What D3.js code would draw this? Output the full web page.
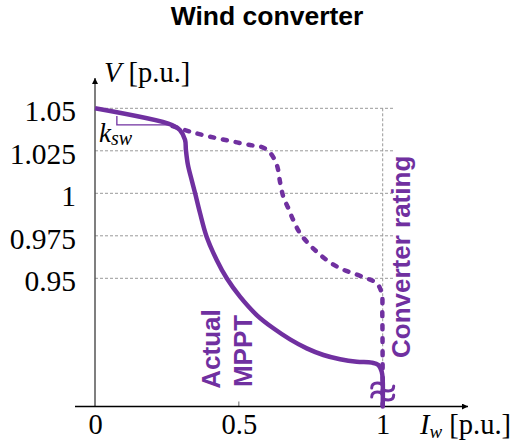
<!DOCTYPE html>
<html lang="en">
<head>
  <meta charset="UTF-8">
  <title>Wind converter</title>
  <style>
    body { margin: 0; background: #fff; }
    svg text { font-family: "Liberation Serif", "Times New Roman", serif; }
    .title, .lbl { font-family: "Liberation Sans", Arial, sans-serif !important; font-weight: bold; }
  </style>
</head>
<body>
  <svg id="chart" width="514" height="443"></svg>

  <script src="https://d3js.org/d3.v7.min.js"></script>
  <script>
    // valores
    const yTicks = [1.05, 1.025, 1, 0.975, 0.95];
    const yTickLabels = ['1.05', '1.025', '1', '0.975', '0.95'];
    const xTicks = [0, 0.5, 1];
    const xTickLabels = ['0', '0.5', '1'];

    // curva real (MPPT)
    const mpptI = [0, 0.268, 0.295, 0.313, 0.316, 0.323, 0.336, 0.348, 0.365, 0.388, 0.423, 0.458, 0.504, 0.562, 0.62, 0.678, 0.736, 0.794, 0.852, 0.91, 0.962, 0.985, 0.9965, 1.0, 1.0];
    const mpptV = [1.05, 1.0402, 1.0372, 1.0314, 1.0255, 1.0167, 1.0078, 1.0, 0.9884, 0.9745, 0.9608, 0.95, 0.9392, 0.9284, 0.9206, 0.9141, 0.9088, 0.9049, 0.9024, 0.9009, 0.9004, 0.899, 0.8951, 0.8902, 0.8746];

    // curva da capacidade do conversor (tracejada)
    const ratingI = [0.27, 0.33, 0.4, 0.469, 0.539, 0.58, 0.608, 0.632, 0.643, 0.6545, 0.672, 0.689, 0.7125, 0.741, 0.771, 0.805, 0.852, 0.898, 0.944, 0.979, 0.9965, 0.9986, 1.0];
    const ratingV = [1.0395, 1.0363, 1.0333, 1.0308, 1.0284, 1.0272, 1.024, 1.0167, 1.0068, 0.998, 0.9912, 0.9843, 0.9765, 0.9706, 0.9656, 0.9608, 0.9559, 0.9529, 0.95, 0.9471, 0.9412, 0.9294, 0.8746];

    // triangulo da inclinacao k_sw
    const slopeI = [0.076, 0.076, 0.261];
    const slopeV = [1.0455, 1.0402, 1.0402];

    const roxo = '#7030a0';
    const svg = d3.select('#chart');

    const x = d3.scaleLinear().domain([0, 1]).range([95, 382.7]);
    const y = d3.scaleLinear().domain([0.8746, 1.05]).range([406.5, 108.3]);

    // titulo
    svg.append('text').attr('class', 'title')
      .attr('x', 267).attr('y', 25)
      .attr('text-anchor', 'middle')
      .style('font-size', '26.5px')
      .text('Wind converter');

    // linhas de grade
    svg.append('g').selectAll('line')
      .data(yTicks)
      .enter().append('line')
      .attr('x1', x(0)).attr('x2', x(1) + 12)
      .attr('y1', d => y(d)).attr('y2', d => y(d))
      .attr('stroke', '#999').attr('stroke-width', 1)
      .attr('stroke-dasharray', '3,2');

    svg.append('line')
      .attr('x1', x(1)).attr('x2', x(1))
      .attr('y1', y(1.05)).attr('y2', y(0.8746))
      .attr('stroke', '#999').attr('stroke-width', 1)
      .attr('stroke-dasharray', '3,2');

    // eixo y (rotulos pelo proprio eixo do d3)
    const eixoY = svg.append('g')
      .attr('transform', `translate(${x(0)},0)`)
      .call(d3.axisLeft(y).tickValues(yTicks).tickSize(0).tickPadding(19)
        .tickFormat((d, i) => yTickLabels[i]));
    eixoY.select('.domain').remove();
    eixoY.selectAll('text')
      .attr('dy', '0.42em')
      .style('font-family', '"Liberation Serif", serif')
      .style('font-size', '29.5px').attr('fill', '#000');

    // eixo x
    const eixoX = svg.append('g')
      .attr('transform', `translate(0,${y(0.8746)})`)
      .call(d3.axisBottom(x).tickValues(xTicks).tickSize(0).tickPadding(8)
        .tickFormat((d, i) => xTickLabels[i]));
    eixoX.select('.domain').remove();
    eixoX.selectAll('text')
      .attr('dy', '0.7em')
      .style('font-family', '"Liberation Serif", serif')
      .style('font-size', '28.5px').attr('fill', '#000');

    // pequenos tracos no eixo x
    svg.append('g').selectAll('line')
      .data([0.5, 1])
      .enter().append('line')
      .attr('x1', d => x(d)).attr('x2', d => x(d))
      .attr('y1', y(0.8746) - 5).attr('y2', y(0.8746))
      .attr('stroke', '#666').attr('stroke-width', 1);

    // setas dos eixos
    svg.append('defs').append('marker')
      .attr('id', 'seta').attr('viewBox', '0 0 10 10')
      .attr('refX', 10).attr('refY', 5)
      .attr('markerWidth', 9).attr('markerHeight', 6)
      .attr('markerUnits', 'userSpaceOnUse')
      .attr('orient', 'auto')
      .append('path').attr('d', 'M0,0L10,5L0,10Z').attr('fill', '#000');

    svg.append('line')
      .attr('x1', x(0)).attr('x2', x(0))
      .attr('y1', y(0.8746)).attr('y2', 78)
      .attr('stroke', '#555').attr('stroke-width', 1.5)
      .attr('marker-end', 'url(#seta)');

    svg.append('line')
      .attr('x1', x(0) - 20).attr('x2', 468)
      .attr('y1', y(0.8746)).attr('y2', y(0.8746))
      .attr('stroke', '#000').attr('stroke-width', 1.5)
      .attr('marker-end', 'url(#seta)');

    // titulos dos eixos
    const tv = svg.append('text').attr('x', 104).attr('y', 82).style('font-size', '28.5px');
    tv.append('tspan').style('font-style', 'italic').text('V');
    tv.append('tspan').text(' [p.u.]');

    const ti = svg.append('text').attr('x', 420).attr('y', 434).style('font-size', '28.5px');
    ti.append('tspan').style('font-style', 'italic').text('I');
    ti.append('tspan').style('font-style', 'italic').style('font-size', '19px').attr('dy', 4).text('w');
    ti.append('tspan').attr('dy', -4).text(' [p.u.]');

    // triangulo k_sw
    svg.append('path')
      .datum(slopeI.map((d, i) => [d, slopeV[i]]))
      .attr('d', d3.line().x(d => x(d[0])).y(d => y(d[1])))
      .attr('fill', 'none').attr('stroke', roxo).attr('stroke-width', 1.3);

    const tk = svg.append('text').attr('x', 99).attr('y', 142).style('font-size', '27px');
    tk.append('tspan').style('font-style', 'italic').text('k');
    tk.append('tspan').style('font-style', 'italic').style('font-size', '20px').attr('dy', 3).text('sw');

    // curvas
    const linha = d3.line()
      .x(d => x(d[0])).y(d => y(d[1]))
      .curve(d3.curveCatmullRom.alpha(0.5));

    svg.append('path')
      .datum(ratingI.map((d, i) => [d, ratingV[i]]))
      .attr('d', linha)
      .attr('fill', 'none').attr('stroke', roxo).attr('stroke-width', 4.5)
      .attr('stroke-linecap', 'round')
      .attr('stroke-dasharray', '4,9');

    svg.append('path')
      .datum(mpptI.map((d, i) => [d, mpptV[i]]))
      .attr('d', linha)
      .attr('fill', 'none').attr('stroke', roxo).attr('stroke-width', 4.5)
      .attr('stroke-linejoin', 'round');

    // simbolo de quebra do eixo
    const cx = x(1);
    [386, 395].forEach(cy => {
      svg.append('path')
        .attr('d', `M${cx - 11},${cy + 2} q 0,-5 5.5,-5 q 5.5,0 5.5,4 q 0,4 5.5,4 q 5.5,0 5.5,-5`)
        .attr('fill', 'none').attr('stroke', roxo).attr('stroke-width', 3)
        .attr('stroke-linecap', 'round');
    });

    // rotulos das curvas
    svg.append('text').attr('class', 'lbl')
      .attr('transform', 'translate(220,349) rotate(-90)')
      .attr('text-anchor', 'middle')
      .attr('fill', roxo).style('font-size', '26px')
      .text('Actual');
    svg.append('text').attr('class', 'lbl')
      .attr('transform', 'translate(252,351) rotate(-90)')
      .attr('text-anchor', 'middle')
      .attr('fill', roxo).style('font-size', '26px')
      .text('MPPT');
    svg.append('text').attr('class', 'lbl')
      .attr('transform', 'translate(410,358) rotate(-90)')
      .attr('text-anchor', 'start')
      .attr('fill', roxo).style('font-size', '26px')
      .text('Converter rating');
  </script>
</body>
</html>
